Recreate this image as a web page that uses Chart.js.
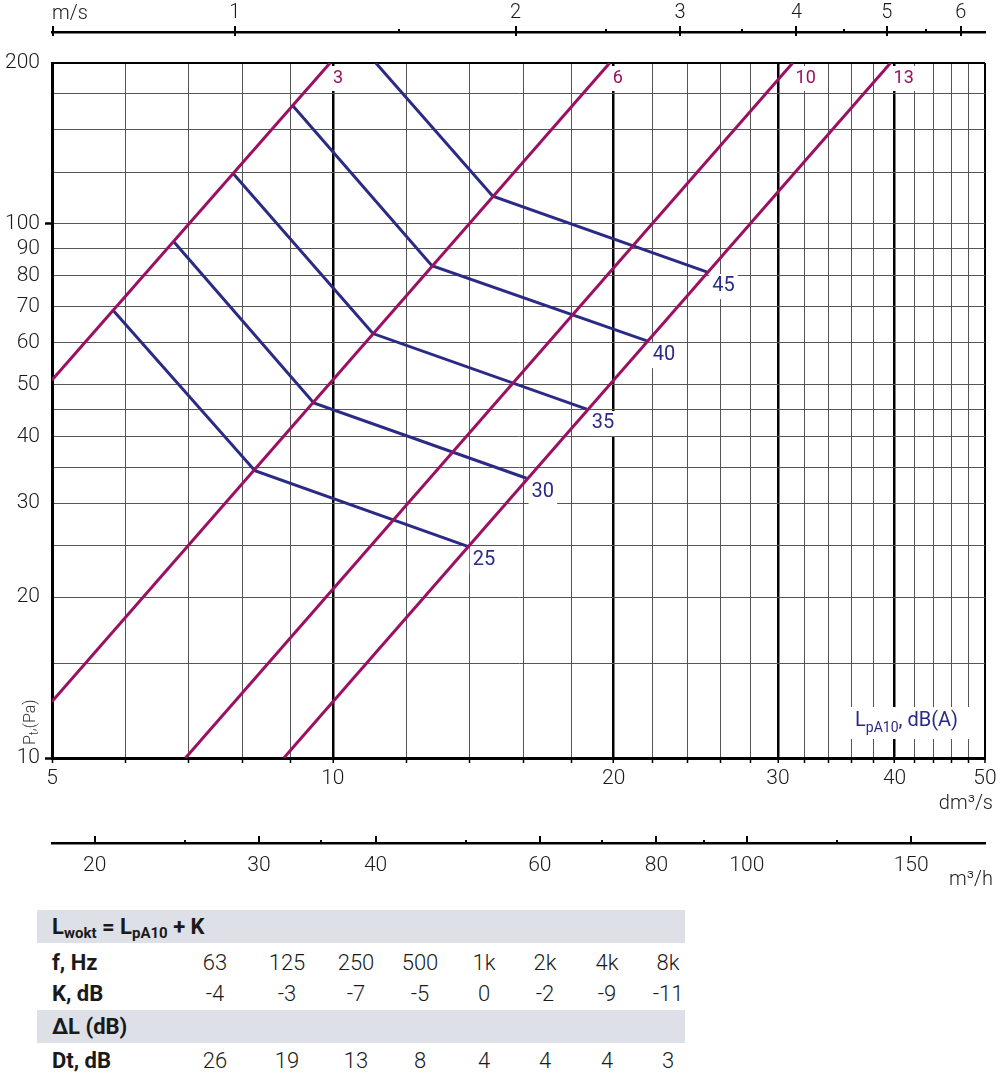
<!DOCTYPE html>
<html>
<head>
<meta charset="utf-8">
<script src="https://cdn.jsdelivr.net/npm/chart.js@4.4.1/dist/chart.umd.min.js"></script>
<style>
  body { margin: 0; background: #fff; }
  #wrap { position: relative; width: 1000px; height: 1091px; font-family: Roboto, "DejaVu Sans", sans-serif; color: #1a1a1a; }
  #c { position: absolute; left: 0; top: 0; }
  .band { position: absolute; left: 37px; width: 648px; height: 33px; background: #dde0e7; }
  .lab { position: absolute; left: 52px; font-weight: 700; font-size: 22px; line-height: 33px; white-space: nowrap; }
  .lab sub { font-size: 15px; vertical-align: -4px; line-height: 0; }
  .val { position: absolute; width: 60px; text-align: center; font-weight: 300; font-size: 22px; line-height: 33px; }
</style>
</head>
<body>
<div id="wrap">
  <canvas id="c" width="1000" height="900"></canvas>
</div>
<script>
// axes (dm3/s on the bottom, Pa on the left)
const flowMin = 5, flowMax = 50;
const presMin = 10, presMax = 200;
const flowGrid = [5, 6, 7, 8, 9, 10, 12, 14, 16, 18, 20, 22, 24, 26, 28, 30, 32, 34, 36, 38, 40, 42, 44, 46, 48, 50];
const flowLabels = [5, 10, 20, 30, 40, 50];
const presGrid = [10, 15, 20, 25, 30, 35, 40, 45, 50, 60, 70, 80, 90, 100, 125, 150, 175, 200];
const presLabels = [10, 20, 30, 40, 50, 60, 70, 80, 90, 100, 200];

// secondary axes: m/s on top, m3/h below
const dm3sPerMs = 7.85;   // duct section, dm3/s at 1 m/s
const m3hPerDm3s = 3.6;
const speedTicks = [1, 1.5, 2, 2.5, 3, 3.5, 4, 4.5, 5, 5.5, 6];
const speedLabels = [1, 2, 3, 4, 5, 6];
const hourTicks = [20, 25, 30, 35, 40, 50, 60, 70, 80, 90, 100, 125, 150];
const hourLabels = [20, 30, 40, 60, 80, 100, 150];

// damper position lines
const posNames = ['3', '6', '10', '13'];
const posFlow = [[5, 9.93], [5, 19.8], [6.95, 31.1], [8.86, 39.6]];
const posPres = [[51, 200], [12.75, 200], [10, 200], [10, 200]];

// LpA10 sound level curves
const lpaNames = ['25', '30', '35', '40', '45'];
const lpaFlow = [[5.81, 8.25, 13.95], [6.75, 9.54, 16.13], [7.81, 11.04, 18.71], [9.04, 12.77, 21.75], [11.12, 14.84, 25.2]];
const lpaPres = [[69, 34.5, 24.9], [92.7, 46.2, 33.4], [124.5, 62.3, 45.0], [167, 83.5, 60.3], [200, 112.6, 81.2]];

// table
const freqs = ['63', '125', '250', '500', '1k', '2k', '4k', '8k'];
const kValues = [-4, -3, -7, -5, 0, -2, -9, -11];
const dtValues = [26, 19, 13, 8, 4, 4, 4, 3];

const MAG = '#9b1060';
const NAVY = '#2b2b85';
const FONT = 'Roboto, "DejaVu Sans", sans-serif';
const majorFlow = [10, 20, 30, 40];

function tickVal(c) { return c.tick ? c.tick.value : null; }

const datasets = [];
posNames.forEach((n, i) => {
  datasets.push({
    label: n,
    data: posFlow[i].map((q, j) => ({ x: q, y: posPres[i][j] })),
    borderColor: MAG, borderWidth: 3, pointRadius: 0, showLine: true
  });
});
lpaNames.forEach((n, i) => {
  datasets.push({
    label: n,
    data: lpaFlow[i].map((q, j) => ({ x: q, y: lpaPres[i][j] })),
    borderColor: NAVY, borderWidth: 3, pointRadius: 0, showLine: true
  });
});

function boxText(ctx, text, x, y, color, size, box) {
  ctx.font = '400 ' + size + 'px ' + FONT;
  const w = ctx.measureText(text).width;
  if (box) {
    ctx.fillStyle = '#fff';
    ctx.fillRect(x - 3, y - 12, w + 6, 25);
  } else {
    ctx.fillStyle = color;
    ctx.textAlign = 'left';
    ctx.textBaseline = 'middle';
    ctx.fillText(text, x, y);
  }
}

function drawLabels(chart, box) {
  const ctx = chart.ctx, xs = chart.scales.x, ys = chart.scales.y;
  ctx.save();
  posNames.forEach((n, i) => {
    const k = posFlow[i].length - 1;
    const px = xs.getPixelForValue(posFlow[i][k]);
    const py = ys.getPixelForValue(posPres[i][k]);
    boxText(ctx, n, px + 3, py + 15, MAG, 18, box);
  });
  lpaNames.forEach((n, i) => {
    const k = lpaFlow[i].length - 1;
    const px = xs.getPixelForValue(lpaFlow[i][k]);
    const py = ys.getPixelForValue(lpaPres[i][k]);
    boxText(ctx, n, px + 5, py + 14, NAVY, 20, box);
  });
  // LpA10, dB(A) legend text
  const a = chart.chartArea;
  const lx = a.right - 130, ly = a.bottom - 37;
  if (box) {
    ctx.fillStyle = '#fff';
    ctx.fillRect(lx - 5, ly - 14, 126, 32);
  } else {
    ctx.fillStyle = NAVY;
    ctx.textAlign = 'left';
    ctx.textBaseline = 'middle';
    ctx.font = '400 20px ' + FONT;
    ctx.fillText('L', lx, ly);
    let x = lx + ctx.measureText('L').width;
    ctx.font = '400 14px ' + FONT;
    ctx.fillText('pA10', x, ly + 7);
    x += ctx.measureText('pA10').width;
    ctx.font = '400 20px ' + FONT;
    ctx.fillText(', dB(A)', x, ly);
  }
  ctx.restore();
}

const annotations = {
  id: 'annotations',
  beforeDatasetsDraw(chart) { drawLabels(chart, true); },
  afterDatasetsDraw(chart) { drawLabels(chart, false); }
};

const extraAxes = {
  id: 'extraAxes',
  afterDraw(chart) {
    const ctx = chart.ctx, ms = chart.scales.ms, mh = chart.scales.mh, a = chart.chartArea;
    ctx.save();
    ctx.strokeStyle = '#000';
    ctx.fillStyle = '#000';
    ctx.lineWidth = 2;
    const yMs = ms.bottom - 1, yMh = mh.top + 1;
    ctx.beginPath();
    ctx.moveTo(a.left + 1, yMs - 5); ctx.lineTo(a.left + 1, yMs + 5);
    speedTicks.forEach(v => {
      const px = Math.round(ms.getPixelForValue(v));
      if (speedLabels.includes(v)) { ctx.moveTo(px, yMs - 5); ctx.lineTo(px, yMs + 5); }
      else ctx.fillRect(px - 1, yMs - 2, 2, 4);
    });
    hourTicks.forEach(v => {
      const px = Math.round(mh.getPixelForValue(v));
      if (hourLabels.includes(v)) { ctx.moveTo(px, yMh - 8); ctx.lineTo(px, yMh); }
      else ctx.fillRect(px - 1, yMh - 4, 2, 4);
    });
    ctx.stroke();

    // unit labels
    ctx.fillStyle = '#1a1a1a';
    ctx.textBaseline = 'middle';
    ctx.font = '300 20px ' + FONT;
    ctx.textAlign = 'left';
    ctx.fillText('m/s', a.left, 14);
    ctx.textAlign = 'right';
    ctx.fillText('dm³/s', 993, 804);
    ctx.fillText('m³/h', 993, 880);

    // y axis title, rotated
    ctx.translate(31, 745);
    ctx.rotate(-Math.PI / 2);
    ctx.textAlign = 'left';
    ctx.fillStyle = '#333';
    ctx.font = '300 16px ' + FONT;
    ctx.fillText('P', 0, 0);
    let x = ctx.measureText('P').width;
    ctx.font = '300 12px ' + FONT;
    ctx.fillText('t', x, 4);
    x += ctx.measureText('t').width;
    ctx.font = '300 16px ' + FONT;
    ctx.fillText(',(Pa)', x, 0);
    ctx.restore();
  }
};

const tickFont = { family: FONT, size: 21, weight: '300' };

new Chart(document.getElementById('c'), {
  type: 'scatter',
  data: { datasets: datasets },
  options: {
    responsive: false,
    animation: false,
    layout: { padding: 0 },
    plugins: { legend: { display: false }, tooltip: { enabled: false } },
    scales: {
      x: {
        type: 'logarithmic', position: 'bottom', weight: 0, min: flowMin, max: flowMax, bounds: 'data',
        afterBuildTicks: s => { s.ticks = flowGrid.map(v => ({ value: v })); },
        afterFit: s => { s.height = 85; s.paddingLeft = 0; s.paddingRight = 15; },
        ticks: {
          autoSkip: false, maxRotation: 0, padding: 3, color: '#1a1a1a', font: tickFont,
          callback: v => flowLabels.includes(v) ? String(v) : ''
        },
        grid: {
          color: c => majorFlow.includes(tickVal(c)) || tickVal(c) === flowMax ? '#000' : '#555',
          lineWidth: c => majorFlow.includes(tickVal(c)) ? 2.5 : (tickVal(c) === flowMax ? 2 : 1),
          tickLength: 5, tickColor: '#000', tickWidth: 1.5
        },
        border: { color: '#000', width: 3 }
      },
      y: {
        type: 'logarithmic', position: 'left', min: presMin, max: presMax, bounds: 'data',
        afterBuildTicks: s => { s.ticks = presGrid.map(v => ({ value: v })); },
        afterFit: s => { s.width = 52; s.paddingTop = 0; s.paddingBottom = 0; },
        ticks: {
          autoSkip: false, padding: 5, color: '#1a1a1a', font: tickFont,
          callback: v => presLabels.includes(v) ? String(v) : ''
        },
        grid: {
          color: c => tickVal(c) === presMax ? '#000' : '#555',
          lineWidth: c => tickVal(c) === presMax ? 2 : 1,
          tickLength: 7, tickWidth: 2.5,
          tickColor: c => (tickVal(c) === 10 || tickVal(c) === 100) ? '#000' : 'rgba(0,0,0,0)'
        },
        border: { color: '#000', width: 3 }
      },
      gap: {
        type: 'linear', axis: 'x', position: 'top', weight: 1,
        grid: { display: false, drawTicks: false }, ticks: { display: false }, border: { display: false },
        afterFit: s => { s.height = 31; s.paddingLeft = 0; s.paddingRight = 0; }
      },
      ms: {
        type: 'logarithmic', axis: 'x', position: 'top', weight: 2, bounds: 'data',
        min: flowMin / dm3sPerMs, max: flowMax / dm3sPerMs,
        afterBuildTicks: s => { s.ticks = speedTicks.map(v => ({ value: v })); },
        afterFit: s => { s.height = 32; s.paddingLeft = 0; s.paddingRight = 0; },
        ticks: {
          autoSkip: false, maxRotation: 0, padding: 7, color: '#1a1a1a', font: { family: FONT, size: 20, weight: '300' },
          callback: v => speedLabels.includes(v) ? String(v) : ''
        },
        grid: { display: false, drawTicks: false },
        border: { color: '#000', width: 2.5 }
      },
      mh: {
        type: 'logarithmic', axis: 'x', position: 'bottom', weight: 1, bounds: 'data',
        min: flowMin * m3hPerDm3s, max: flowMax * m3hPerDm3s,
        afterBuildTicks: s => { s.ticks = hourTicks.map(v => ({ value: v })); },
        afterFit: s => { s.height = 57; s.paddingLeft = 0; s.paddingRight = 0; },
        ticks: {
          autoSkip: false, maxRotation: 0, padding: 10, color: '#1a1a1a', font: tickFont,
          callback: v => hourLabels.includes(v) ? String(v) : ''
        },
        grid: { display: false, drawTicks: false },
        border: { color: '#000', width: 2.5 }
      }
    }
  },
  plugins: [annotations, extraAxes]
});

// table below the chart
const wrap = document.getElementById('wrap');
const colCenters = [215, 287, 356, 420, 484, 545, 607, 668];
function add(cls, top, html, left) {
  const d = document.createElement('div');
  d.className = cls;
  d.style.top = top + 'px';
  if (left !== undefined) d.style.left = left + 'px';
  d.innerHTML = html;
  wrap.appendChild(d);
}
add('band', 910, '');
add('band', 1010, '');
add('lab', 910, 'L<sub>wokt</sub> = L<sub>pA10</sub> + K');
add('lab', 1010, 'ΔL (dB)');
const rows = [
  { top: 946, label: 'f, Hz', vals: freqs },
  { top: 977, label: 'K, dB', vals: kValues },
  { top: 1044, label: 'Dt, dB', vals: dtValues }
];
rows.forEach(r => {
  add('lab', r.top, r.label);
  r.vals.forEach((v, i) => add('val', r.top, String(v), colCenters[i] - 30));
});
</script>
</body>
</html>
